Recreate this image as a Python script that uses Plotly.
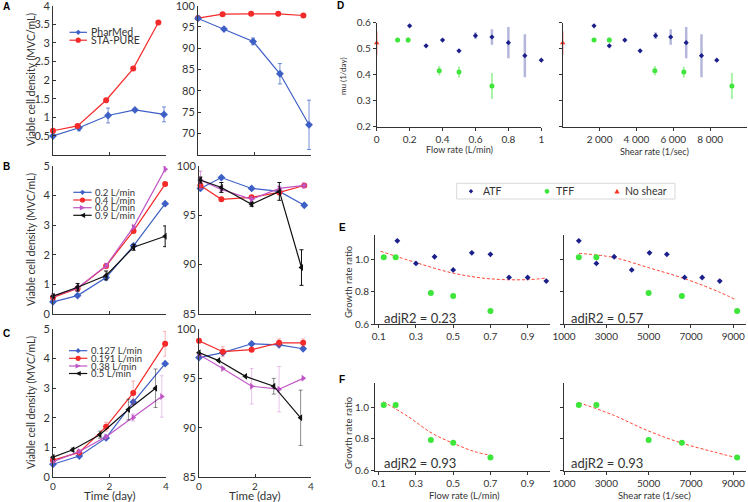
import plotly.graph_objects as go

W, H = 748, 502

# ---------------- data ----------------
# Panel A (PharMed vs STA-PURE tubing)
tA_pm = [0, 0.92, 1.95, 2.9, 3.93]
tA_sp = [0, 0.87, 1.88, 2.84, 3.73]
A_pm_vcd = [0.50, 0.72, 1.05, 1.20, 1.08]
A_pm_vcd_err = [0, 0.08, 0.20, 0.03, 0.20]
A_sp_vcd = [0.64, 0.77, 1.46, 2.31, 3.55]
A_pm_via = [97.0, 94.5, 91.6, 84.0, 72.0]
A_pm_via_err = [0, 0.3, 0.8, 2.4, 5.8]
A_sp_via = [97.1, 98.0, 98.1, 98.1, 97.7]

# Panel B (ATF flow rates)
tB_left = [0, 0.87, 1.88, 2.85, 3.97]
tB_right = [0.05, 0.8, 1.88, 2.87, 3.76]
tB_right_blk = [0.05, 0.8, 1.88, 2.87, 3.66]
B_labels = ["0.2 L/min", "0.4 L/min", "0.6 L/min", "0.9 L/min"]
B_vcd_02 = [0.41, 0.62, 1.23, 2.30, 3.72]
B_vcd_04 = [0.56, 0.86, 1.62, 2.80, 4.38]
B_vcd_06 = [0.60, 0.88, 1.63, 2.93, 4.88]
B_vcd_06_err = [0.08, 0.05, 0.05, 0.05, 0.08]
B_vcd_09 = [0.60, 0.90, 1.30, 2.25, 2.62]
B_vcd_09_err = [0.05, 0.13, 0.15, 0.10, 0.35]
B_via_02 = [97.7, 98.8, 97.7, 97.4, 96.0]
B_via_04 = [98.0, 96.6, 96.8, 97.3, 98.0]
B_via_06 = [98.55, 97.6, 96.6, 97.7, 98.0]
B_via_06_err = [0.9, 0.3, 0.3, 0.2, 0.2]
B_via_09 = [98.55, 97.8, 96.1, 97.4, 89.7]
B_via_09_err = [0.3, 0.5, 0.2, 0.9, 1.8]

# Panel C (TFF flow rates)
tC_left = [0, 0.93, 1.88, 2.84, 3.97]
tC_left_pink = [0, 0.93, 1.88, 2.84, 3.85]
tC_blk = [0, 0.7, 1.66, 2.67, 3.63]
tC_right = [0, 0.85, 1.88, 2.86, 3.72]
C_labels = ["0.127 L/min", "0.191 L/min", "0.38 L/min", "0.5 L/min"]
C_vcd_127 = [0.43, 0.71, 1.32, 2.53, 3.83]
C_vcd_191 = [0.57, 0.83, 1.70, 2.84, 4.50]
C_vcd_191_err = [0, 0.05, 0.15, 0.40, 0.42]
C_vcd_38 = [0.52, 0.86, 1.36, 2.01, 2.72]
C_vcd_38_err = [0, 0.05, 0.05, 0.12, 0.70]
C_vcd_5 = [0.67, 0.92, 1.43, 2.28, 3.00]
C_vcd_5_err = [0, 0.06, 0.12, 0.35, 0.65]
C_via_127 = [97.1, 97.6, 98.5, 98.4, 98.0]
C_via_191 = [98.8, 97.7, 97.9, 98.6, 98.6]
C_via_191_err = [0, 0.5, 0, 0.4, 0.4]
C_via_38 = [97.4, 96.0, 94.2, 93.9, 95.0]
C_via_38_err = [0, 0, 1.8, 2.3, 0]
C_via_5 = [97.6, 96.8, 95.2, 94.2, 91.0]
C_via_5_err = [0, 0, 0, 0.8, 2.8]

# Panel D (specific growth rate)
D_atf_flow = [0.2, 0.3, 0.4, 0.5, 0.6, 0.7, 0.8, 0.9, 1.0]
D_atf_shear = [1700, 2530, 3370, 4200, 5040, 5860, 6700, 7530, 8360]
D_atf_mu = [0.588, 0.511, 0.533, 0.492, 0.550, 0.545, 0.523, 0.473, 0.456]
D_atf_err = [0, 0, 0, 0, 0.013, 0.03, 0.06, 0.083, 0]
D_tff_flow = [0.127, 0.191, 0.38, 0.5, 0.7]
D_tff_shear = [1700, 2530, 5000, 6570, 9180]
D_tff_mu = [0.533, 0.533, 0.415, 0.410, 0.357]
D_tff_err = [0, 0.01, 0.018, 0.022, 0.05]
D_ns_x = [0]
D_ns_mu = [0.522]
D_ns_err = [0.045]
legend_names = ["ATF", "TFF", "No shear"]

# Panels E/F (growth rate ratio)
E_atf_ratio = [1.114, 0.975, 1.016, 0.935, 1.040, 1.031, 0.889, 0.888, 0.866]
E_tff_ratio = [1.013, 1.013, 0.793, 0.775, 0.682]
E_fit_flow_x = [0.11, 0.3, 0.5, 0.7, 0.9, 1.0]
E_fit_flow_y = [1.05, 0.98, 0.915, 0.88, 0.875, 0.885]
E_fit_shear_x = [1706, 3320, 5015, 6650, 8310, 9130]
E_fit_shear_y = [1.037, 1.012, 0.948, 0.883, 0.80, 0.75]
F_fit_flow_x = [0.125, 0.258, 0.386, 0.51, 0.615, 0.718]
F_fit_flow_y = [1.034, 0.94, 0.835, 0.767, 0.719, 0.692]
F_fit_shear_x = [1706, 3320, 4890, 6510, 8030, 9080]
F_fit_shear_y = [1.028, 0.95, 0.855, 0.775, 0.719, 0.683]
adjR2 = ["adjR2 = 0.23", "adjR2 = 0.57", "adjR2 = 0.93", "adjR2 = 0.93"]

# ---------------- styling ----------------
FONT = "Lato"
AX = "#333333"
BLUE = "#3d5fc6"
RED = "#f42a2a"
PINK = "#c055c6"
BLACK = "#111111"
NAVY = "#1b1f8a"
GREEN = "#3ee53a"
NSRED = "#ff3322"
FIT = "#ff4433"

def fx(x):
    return x / W

def fy(y):
    return 1 - y / H

# panel boxes in pixels: (x0, x1), (ytop, ybottom), xrange, yrange
panels = [
    ((53, 166), (5.7, 154.6), [0, 4], [0, 4]),          # 1 A left
    ((198, 311), (5.7, 154.6), [0, 4], [65, 100]),      # 2 A right
    ((53, 166), (165.7, 314), [0, 4], [0, 5]),          # 3 B left
    ((199, 311), (165.7, 314), [0, 4], [85, 100]),      # 4 B right
    ((53, 166), (329, 477), [0, 4], [0, 5]),            # 5 C left
    ((199, 311), (329, 477), [0, 4], [85, 100]),        # 6 C right
    ((376.7, 541.3), (22.7, 126.7), [0, 1], [0.2, 0.6]),      # 7 D left
    ((562.7, 747), (22.7, 126.7), [0, 10000], [0.2, 0.6]),    # 8 D right
    ((375, 550), (235, 324.3), [0.08, 1.02], [0.6, 1.15]),    # 9 E left
    ((564, 746), (235, 324.3), [1000, 9600], [0.6, 1.15]),    # 10 E right
    ((375, 550), (383.3, 470.5), [0.08, 1.02], [0.6, 1.15]),  # 11 F left
    ((564, 746), (383.3, 470.5), [1000, 9600], [0.6, 1.15]),  # 12 F right
]

layout = dict(
    width=W, height=H, margin=dict(l=0, r=0, t=0, b=0),
    paper_bgcolor="white", plot_bgcolor="white",
    font=dict(family=FONT, color=AX), showlegend=False,
)

def axname(i, kind):
    return kind + ("" if i == 1 else str(i))

def axkey(i, kind):
    return kind + "axis" + ("" if i == 1 else str(i))

tick_cfg = {
    1: dict(x=dict(vals=[0, 2, 4], text=None, show=False, ticks="inside"),
            y=dict(vals=[0.5, 1, 1.5, 2, 2.5, 3, 3.5, 4], text=["0.5", "1", "1.5", "2", "2.5", "3", "3.5", "4"], show=True, ticks="inside")),
    2: dict(x=dict(vals=[0, 2, 4], text=None, show=False, ticks="inside"),
            y=dict(vals=[70, 75, 80, 85, 90, 95, 100], text=None, show=True, ticks="inside")),
    3: dict(x=dict(vals=[0, 2, 4], text=None, show=False, ticks="inside"),
            y=dict(vals=[0, 1, 2, 3, 4, 5], text=None, show=True, ticks="inside")),
    4: dict(x=dict(vals=[0, 2, 4], text=None, show=False, ticks="inside"),
            y=dict(vals=[85, 90, 95, 100], text=None, show=True, ticks="inside")),
    5: dict(x=dict(vals=[0, 2, 4], text=None, show=True, ticks="inside"),
            y=dict(vals=[0, 1, 2, 3, 4, 5], text=None, show=True, ticks="inside")),
    6: dict(x=dict(vals=[0, 2, 4], text=None, show=True, ticks="inside"),
            y=dict(vals=[85, 90, 95, 100], text=None, show=True, ticks="inside")),
    7: dict(x=dict(vals=[0, 0.2, 0.4, 0.6, 0.8, 1], text=["0", "0.2", "0.4", "0.6", "0.8", "1"], show=True, ticks="outside"),
            y=dict(vals=[0.2, 0.3, 0.4, 0.5, 0.6], text=["0.2", "0.3", "0.4", "0.5", "0.6"], show=True, ticks="outside")),
    8: dict(x=dict(vals=[2000, 4000, 6000, 8000], text=["2 000", "4 000", "6 000", "8 000"], show=True, ticks="outside"),
            y=dict(vals=[0.2, 0.3, 0.4, 0.5, 0.6], text=None, show=False, ticks="outside")),
    9: dict(x=dict(vals=[0.1, 0.3, 0.5, 0.7, 0.9], text=["0.1", "0.3", "0.5", "0.7", "0.9"], show=True, ticks="outside"),
            y=dict(vals=[0.6, 0.8, 1.0], text=["0.6", "0.8", "1.0"], show=True, ticks="outside")),
    10: dict(x=dict(vals=[1000, 3000, 5000, 7000, 9000], text=None, show=True, ticks="outside"),
             y=dict(vals=[0.6, 0.8, 1.0], text=None, show=False, ticks="outside")),
    11: dict(x=dict(vals=[0.1, 0.3, 0.5, 0.7, 0.9], text=["0.1", "0.3", "0.5", "0.7", "0.9"], show=True, ticks="outside"),
             y=dict(vals=[0.6, 0.8, 1.0], text=["0.6", "0.8", "1.0"], show=True, ticks="outside")),
    12: dict(x=dict(vals=[1000, 3000, 5000, 7000, 9000], text=None, show=True, ticks="outside"),
             y=dict(vals=[0.6, 0.8, 1.0], text=None, show=False, ticks="outside")),
}

for i, (xb, yb, xr, yr) in enumerate(panels, start=1):
    small = i >= 7
    fs = 10 if small else 11
    for kind in ("x", "y"):
        c = tick_cfg[i][kind]
        d = dict(
            range=xr if kind == "x" else yr,
            domain=[fx(xb[0]), fx(xb[1])] if kind == "x" else [fy(yb[1]), fy(yb[0])],
            anchor=axname(i, "y" if kind == "x" else "x"),
            showline=True, linecolor=AX, linewidth=1, mirror=False,
            showgrid=False, zeroline=False,
            ticks=c["ticks"], ticklen=3, tickwidth=1, tickcolor=AX,
            tickmode="array", tickvals=c["vals"],
            showticklabels=c["show"], ticklabeloverflow="allow",
            tickfont=dict(family=FONT, size=(10 if (kind == "x" and i in (5, 6)) else fs), color=AX),
            fixedrange=True, automargin=False,
        )
        if c["text"] is not None:
            d["ticktext"] = c["text"]
        layout[axkey(i, kind)] = d

fig = go.Figure(layout=layout)

def add(ax, x, y, color, symbol, err=None, errcolor=None, size=6, mode="lines+markers",
        width=1.2, errthick=1, errwidth=2, dash=None, shape="linear"):
    t = go.Scatter(
        x=x, y=y, mode=mode,
        xaxis=axname(ax, "x"), yaxis=axname(ax, "y"),
        line=dict(color=color, width=width, dash=dash, shape=shape),
        marker=dict(symbol=symbol, size=size, color=color, line=dict(width=0)),
        cliponaxis=False, showlegend=False, hoverinfo="skip",
    )
    if err is not None:
        t.error_y = dict(type="data", array=err, visible=True, color=errcolor or color,
                         thickness=errthick, width=errwidth)
    fig.add_trace(t)

eb = lambda r, g, b, a: f"rgba({r},{g},{b},{a})"

# A
add(1, tA_pm, A_pm_vcd, BLUE, "diamond", A_pm_vcd_err, eb(61, 95, 198, 0.7))
add(1, tA_sp, A_sp_vcd, RED, "circle")
add(2, tA_sp, A_sp_via, RED, "circle")
add(2, tA_pm, A_pm_via, BLUE, "diamond", A_pm_via_err, eb(61, 95, 198, 0.7))

# B
add(3, tB_left, B_vcd_02, BLUE, "diamond")
add(3, tB_left, B_vcd_04, RED, "circle")
add(3, tB_left, B_vcd_06, PINK, "triangle-right", B_vcd_06_err, eb(192, 85, 198, 0.6))
add(3, tB_left, B_vcd_09, BLACK, "triangle-left", B_vcd_09_err, BLACK)
add(4, tB_right, B_via_02, BLUE, "diamond")
add(4, tB_right, B_via_04, RED, "circle")
add(4, tB_right, B_via_06, PINK, "triangle-right", B_via_06_err, eb(192, 85, 198, 0.6))
add(4, tB_right_blk, B_via_09, BLACK, "triangle-left", B_via_09_err, BLACK)

# C
add(5, tC_left, C_vcd_127, BLUE, "diamond")
add(5, tC_left, C_vcd_191, RED, "circle", C_vcd_191_err, eb(244, 42, 42, 0.35))
add(5, tC_left_pink, C_vcd_38, PINK, "triangle-right", C_vcd_38_err, eb(192, 85, 198, 0.35))
add(5, tC_blk, C_vcd_5, BLACK, "triangle-left", C_vcd_5_err, eb(0, 0, 0, 0.45))
add(6, tC_right, C_via_127, BLUE, "diamond")
add(6, tC_right, C_via_191, RED, "circle", C_via_191_err, eb(244, 42, 42, 0.35))
add(6, tC_right, C_via_38, PINK, "triangle-right", C_via_38_err, eb(192, 85, 198, 0.35))
add(6, tC_blk, C_via_5, BLACK, "triangle-left", C_via_5_err, eb(0, 0, 0, 0.45))

# D
add(7, D_ns_x, D_ns_mu, NSRED, "triangle-up", D_ns_err, eb(255, 51, 34, 0.6), size=5, mode="markers", errwidth=0, errthick=1.5)
add(7, D_atf_flow, D_atf_mu, NAVY, "diamond", D_atf_err, eb(40, 50, 150, 0.35), size=4, mode="markers", errwidth=0, errthick=2.5)
add(7, D_tff_flow, D_tff_mu, GREEN, "circle", D_tff_err, eb(62, 229, 58, 0.45), size=5, mode="markers", errwidth=0, errthick=2)
add(8, D_ns_x, D_ns_mu, NSRED, "triangle-up", D_ns_err, eb(255, 51, 34, 0.6), size=5, mode="markers", errwidth=0, errthick=1.5)
add(8, D_atf_shear, D_atf_mu, NAVY, "diamond", D_atf_err, eb(40, 50, 150, 0.35), size=4, mode="markers", errwidth=0, errthick=2.5)
add(8, D_tff_shear, D_tff_mu, GREEN, "circle", D_tff_err, eb(62, 229, 58, 0.45), size=5, mode="markers", errwidth=0, errthick=2)

# E
add(9, E_fit_flow_x, E_fit_flow_y, FIT, "circle", mode="lines", width=1, dash="3px,2px", shape="spline")
add(9, D_atf_flow, E_atf_ratio, NAVY, "diamond", size=4.5, mode="markers")
add(9, D_tff_flow, E_tff_ratio, GREEN, "circle", size=6, mode="markers")
add(10, E_fit_shear_x, E_fit_shear_y, FIT, "circle", mode="lines", width=1, dash="3px,2px", shape="spline")
add(10, D_atf_shear, E_atf_ratio, NAVY, "diamond", size=4.5, mode="markers")
add(10, D_tff_shear, E_tff_ratio, GREEN, "circle", size=6, mode="markers")

# F
add(11, F_fit_flow_x, F_fit_flow_y, FIT, "circle", mode="lines", width=1, dash="3px,2px", shape="spline")
add(11, D_tff_flow, E_tff_ratio, GREEN, "circle", size=6, mode="markers")
add(12, F_fit_shear_x, F_fit_shear_y, FIT, "circle", mode="lines", width=1, dash="3px,2px", shape="spline")
add(12, D_tff_shear, E_tff_ratio, GREEN, "circle", size=6, mode="markers")

# ---------------- annotations ----------------
ann = []
shapes = []

def text(x, y, s, size=11, xanchor="center", yanchor="middle", angle=0, bold=False, color=AX, family=FONT):
    ann.append(dict(x=fx(x), y=fy(y), xref="paper", yref="paper", text=(f"<b>{s}</b>" if bold else s),
                    showarrow=False, xanchor=xanchor, yanchor=yanchor, textangle=angle,
                    font=dict(family=family, size=size, color=color)))

# panel letters
for L, (x, y) in zip("ABCDEF", [(6, 7), (6, 167), (6, 333), (340, 6), (342, 227), (342, 379)]):
    text(x, y, L, size=10, bold=True, color="black", family="Liberation Sans")

# axis titles
for yc in (80, 240, 403):
    text(31, yc, "Viable cell density (MVC/mL)", size=10.5, angle=-90)
text(109.5, 495, "Time (day)", size=11.5)
text(254.5, 495, "Time (day)", size=11.5)
text(343, 76, "mu (1/day)", size=8, angle=-90)
text(459, 150, "Flow rate (L/min)", size=9)
text(654, 151.5, "Shear rate (1/sec)", size=9)
text(348, 282, "Growth rate ratio", size=9.5, angle=-90)
text(348, 433, "Growth rate ratio", size=9.5, angle=-90)
text(464, 495, "Flow rate (L/min)", size=9.5)
text(654, 495, "Shear rate (1/sec)", size=9.5)

# adjR2 labels
text(382, 318, adjR2[0], size=13, xanchor="left")
text(568.5, 318, adjR2[1], size=13, xanchor="left")
text(382, 463, adjR2[2], size=13, xanchor="left")
text(568.5, 463, adjR2[3], size=13, xanchor="left")

# ---------- manual legends ----------
def mpath(sym, cx, cy, r):
    if sym == "diamond":
        pts = [(cx, cy - r), (cx + r, cy), (cx, cy + r), (cx - r, cy)]
    elif sym == "triangle-right":
        pts = [(cx + r, cy), (cx - r, cy - r), (cx - r, cy + r)]
    elif sym == "triangle-left":
        pts = [(cx - r, cy), (cx + r, cy - r), (cx + r, cy + r)]
    elif sym == "triangle-up":
        pts = [(cx, cy - r), (cx + r, cy + r * 0.8), (cx - r, cy + r * 0.8)]
    else:
        pts = None
    if pts is None:
        return dict(type="circle", xref="paper", yref="paper",
                    x0=fx(cx - r), x1=fx(cx + r), y0=fy(cy + r), y1=fy(cy - r))
    p = "M " + " L ".join(f"{fx(a):.5f},{fy(b):.5f}" for a, b in pts) + " Z"
    return dict(type="path", xref="paper", yref="paper", path=p)

def legend_entry(x0, x1, y, color, sym, label, tx, size):
    shapes.append(dict(type="line", xref="paper", yref="paper", x0=fx(x0), x1=fx(x1), y0=fy(y), y1=fy(y),
                       line=dict(color=color, width=1.2)))
    m = mpath(sym, (x0 + x1) / 2, y, 2.6)
    m.update(fillcolor=color, line=dict(width=0))
    shapes.append(m)
    text(tx, y, label, size=size, xanchor="left")

syms4 = ["diamond", "circle", "triangle-right", "triangle-left"]
cols4 = [BLUE, RED, PINK, BLACK]
legend_entry(69.5, 87, 32.3, BLUE, "diamond", "PharMed", 89, 10.5)
legend_entry(69.5, 87, 40.2, RED, "circle", "STA-PURE", 89, 10.5)
for k, yy in enumerate([192.3, 200, 207.7, 215.3]):
    legend_entry(73.3, 91.7, yy, cols4[k], syms4[k], B_labels[k], 92.5, 9.5)
for k, yy in enumerate([350.7, 358.3, 366, 373.5]):
    legend_entry(69, 87.3, yy, cols4[k], syms4[k], C_labels[k], 88.5, 9.5)

# D legend box
shapes.append(dict(type="rect", xref="paper", yref="paper", x0=fx(456.7), x1=fx(675), y0=fy(199), y1=fy(183.3),
                   line=dict(color="#d9d9d9", width=1), fillcolor="white"))
for (cx, col, sym, tx, r), lab in zip([(471, NAVY, "diamond", 481, 2.2), (547, GREEN, "circle", 553.5, 2.4),
                                       (617, NSRED, "triangle-up", 623, 2.6)], legend_names):
    m = mpath(sym, cx, 191.3, r)
    m.update(fillcolor=col, line=dict(width=0))
    shapes.append(m)
    text(tx, 191.3, lab, size=10.5, xanchor="left")

fig.update_layout(annotations=ann, shapes=shapes)
fig.write_html(
    "out.html",
    config={"displayModeBar": False},
    post_script="document.body.style.margin='0';document.body.style.padding='0';document.body.style.overflow='hidden';",
)
